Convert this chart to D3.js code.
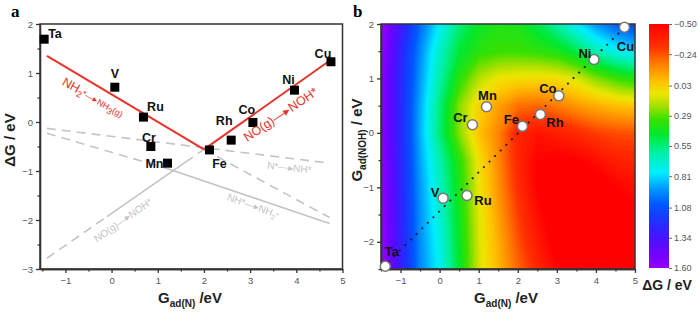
<!DOCTYPE html>
<html>
<head>
<meta charset="utf-8">
<script src="https://cdn.jsdelivr.net/npm/d3@7"></script>
<style>
body { margin: 0; background: #fff; }
svg { display: block; font-family: Arial, "Liberation Sans", sans-serif; }
</style>
</head>
<body>
<svg id="chart" width="700" height="314"></svg>
<script>
const metals = ["Ta", "V", "Ru", "Cr", "Mn", "Fe", "Rh", "Co", "Ni", "Cu"];

// panel a: limiting free energy vs N adsorption energy
const gN_a = [-1.46, 0.07, 0.69, 0.85, 1.21, 2.12, 2.59, 3.06, 3.96, 4.75];
const dG_a = [1.69, 0.71, 0.10, -0.50, -0.84, -0.57, -0.37, -0.01, 0.65, 1.23];

// scaling lines (segments: x pair, y pair)
const redLines = [
    {x: [-1.4, 2.0], y: [1.35, -0.56]},
    {x: [2.0, 4.72], y: [-0.56, 1.25]}
];
const grayDashed = [
    {x: [2.0, 4.72], y: [-0.56, -1.95]},
    {x: [-1.4, -0.1], y: [-2.78, -1.93]},
    {x: [1.6, 2.0], y: [-0.82, -0.56]},
    {x: [-1.4, 4.72], y: [-0.13, -0.84]},
    {x: [-1.4, 1.2], y: [-0.23, -0.95]}
];
const graySolid = [
    {x: [-0.1, 1.6], y: [-1.93, -0.82]},
    {x: [1.2, 4.72], y: [-0.95, -2.07]}
];

// panel b: metals on the (G_ad(N), G_ad(NOH)) map
const gN_b = [-1.39, 0.09, 0.70, 0.84, 1.20, 2.12, 2.58, 3.05, 3.95, 4.73];
const gNOH_b = [-2.45, -1.20, -1.15, 0.15, 0.48, 0.12, 0.34, 0.68, 1.35, 1.94];
const scalingLine = {x: [-1.45, 4.75], y: [-2.47, 1.95]};

// dG, rows from y = 2 down to y = -2.5
const gridX = [-1.5, -1, -0.5, 0, 0.5, 1, 1.5, 2, 2.5, 3, 3.5, 4, 4.5, 5];
const gridY = [2, 1.5, 1, 0.5, 0, -0.5, -1, -1.5, -2, -2.5];
const dGgrid = [
    [1.64, 1.32, 1.01, 0.77, 0.55, 0.43, 0.38, 0.39, 0.49, 0.62, 0.78, 0.93, 1.04, 1.12],
    [1.60, 1.26, 0.95, 0.67, 0.46, 0.36, 0.33, 0.33, 0.35, 0.39, 0.48, 0.63, 0.74, 0.80],
    [1.58, 1.24, 0.92, 0.62, 0.36, 0.18, 0.09, 0.07, 0.06, 0.07, 0.13, 0.24, 0.32, 0.38],
    [1.58, 1.24, 0.89, 0.55, 0.24, 0.04, -0.08, -0.18, -0.20, -0.16, -0.10, -0.05, -0.01, 0.01],
    [1.58, 1.24, 0.88, 0.54, 0.24, 0.00, -0.14, -0.36, -0.42, -0.38, -0.34, -0.28, -0.25, -0.24],
    [1.59, 1.25, 0.90, 0.63, 0.36, 0.08, -0.13, -0.35, -0.50, -0.52, -0.50, -0.45, -0.38, -0.36],
    [1.60, 1.26, 0.92, 0.67, 0.39, 0.10, -0.11, -0.32, -0.50, -0.58, -0.60, -0.58, -0.50, -0.45],
    [1.61, 1.27, 0.93, 0.70, 0.41, 0.12, -0.08, -0.28, -0.45, -0.58, -0.62, -0.62, -0.58, -0.52],
    [1.62, 1.28, 0.94, 0.73, 0.43, 0.13, -0.05, -0.24, -0.40, -0.55, -0.62, -0.63, -0.62, -0.58],
    [1.64, 1.29, 0.95, 0.76, 0.44, 0.14, -0.03, -0.20, -0.35, -0.48, -0.58, -0.62, -0.62, -0.60]
];

const cbarTicks = [-0.50, -0.24, 0.03, 0.29, 0.55, 0.81, 1.08, 1.34, 1.60];
const cbarValues = [-0.5, -0.3, -0.15, 0.0, 0.1, 0.2, 0.32, 0.45, 0.6, 0.78, 0.92, 1.05, 1.2, 1.35, 1.5, 1.6];
const cbarColors = ["#ff0000", "#ff3300", "#ff8000", "#ffc400", "#ebe600", "#a8e000", "#3ce000",
    "#00e830", "#00f0a0", "#00eeff", "#0098ff", "#0058ff", "#2030ff", "#4a12ff", "#7800ff", "#9400ff"];

// label offsets (px) relative to each marker
const labelOffA = [[4, -1, "start"], [0, -9, "middle"], [12, -6, "middle"], [-2, -5, "middle"], [-4, 5, "end"],
    [10, 18, "middle"], [-7, -15, "middle"], [-6, -8, "middle"], [-6, -6, "middle"], [-8, -4, "middle"]];
const labelOffB = [[6.5, -10], [-8, -1.5], [16, 9], [-12, -3], [1, -7], [-11, -2], [14.5, 12.7], [-11, -3], [-9, -1], [1, 24]];

const svg = d3.select("#chart");
const ink = "#333";

function frame(g, x, y, xTicks, xMinor, yTicks, yMinor) {
    const [x0, x1] = x.range(), [y0, y1] = y.range();
    g.append("g").attr("transform", `translate(0,${y0})`)
        .call(d3.axisBottom(x).tickValues(xMinor).tickSize(2.5).tickSizeOuter(0).tickFormat(""));
    g.append("g").attr("transform", `translate(0,${y0})`)
        .call(d3.axisBottom(x).tickValues(xTicks).tickSize(4).tickPadding(4).tickSizeOuter(0).tickFormat(d3.format("d")));
    g.append("g").attr("transform", `translate(${x0},0)`)
        .call(d3.axisLeft(y).tickValues(yMinor).tickSize(2.5).tickSizeOuter(0).tickFormat(""));
    g.append("g").attr("transform", `translate(${x0},0)`)
        .call(d3.axisLeft(y).tickValues(yTicks).tickSize(4).tickPadding(3).tickSizeOuter(0).tickFormat(d3.format("d")));
    g.selectAll(".domain, .tick line").attr("stroke", ink).attr("stroke-width", 1.3);
    g.selectAll(".tick text").attr("fill", "#555").style("font-size", "9.5px");
    g.append("rect").attr("x", x0).attr("y", y1).attr("width", x1 - x0).attr("height", y0 - y1)
        .attr("fill", "none").attr("stroke", ink).attr("stroke-width", 1.5);
}

function axisTitle(g, x, y, main, sub, tail, rotate, size) {
    const t = g.append("text").attr("text-anchor", "middle").attr("font-weight", "bold")
        .attr("fill", "#222").style("font-size", (size || 15) + "px")
        .attr("transform", `translate(${x},${y})` + (rotate ? " rotate(-90)" : ""));
    t.append("tspan").text(main);
    if (sub) t.append("tspan").attr("dy", 4).style("font-size", "10px").text(sub);
    t.append("tspan").attr("dy", sub ? -4 : 0).text(tail);
}

// ---------- panel a ----------
const xa = d3.scaleLinear().domain([-1.55, 5]).range([40, 342.5]);
const ya = d3.scaleLinear().domain([-3, 2]).range([269, 24]);
const ga = svg.append("g");
ga.append("rect").attr("x", 40).attr("y", 24).attr("width", 302.5).attr("height", 245).attr("fill", "#fff");

const segLine = d3.line().x(d => xa(d[0])).y(d => ya(d[1]));
const pairs = s => s.x.map((v, i) => [v, s.y[i]]);

ga.selectAll(".gdash").data(grayDashed).join("path")
    .attr("d", d => segLine(pairs(d))).attr("fill", "none")
    .attr("stroke", "#c4c4c4").attr("stroke-width", 1.6).attr("stroke-dasharray", "9,6");
ga.selectAll(".gsolid").data(graySolid).join("path")
    .attr("d", d => segLine(pairs(d))).attr("fill", "none")
    .attr("stroke", "#c4c4c4").attr("stroke-width", 1.6);
ga.selectAll(".red").data(redLines).join("path")
    .attr("d", d => segLine(pairs(d))).attr("fill", "none")
    .attr("stroke", "#e8332a").attr("stroke-width", 2);

frame(ga, xa, ya, d3.range(-1, 6), [-1.5, -0.5, 0.5, 1.5, 2.5, 3.5, 4.5],
    d3.range(-3, 3), [-2.5, -1.5, -0.5, 0.5, 1.5]);

ga.selectAll(".sq").data(metals).join("rect")
    .attr("x", (d, i) => xa(gN_a[i]) - 4.5).attr("y", (d, i) => ya(dG_a[i]) - 4.5)
    .attr("width", 9).attr("height", 9).attr("fill", "#000");
ga.selectAll(".lab").data(metals).join("text")
    .attr("x", (d, i) => xa(gN_a[i]) + labelOffA[i][0])
    .attr("y", (d, i) => ya(dG_a[i]) + labelOffA[i][1])
    .attr("text-anchor", (d, i) => labelOffA[i][2])
    .attr("font-weight", "bold").attr("fill", "#111").style("font-size", "12.5px")
    .text(d => d);

function stepLabel(g, x, y, angle, color, size, parts) {
    const t = g.append("text").attr("transform", `translate(${x},${y}) rotate(${angle})`)
        .attr("text-anchor", "middle").attr("fill", color).style("font-size", size + "px");
    parts.forEach(p => {
        const s = t.append("tspan").text(p[0]);
        if (p[1]) s.attr("dy", p[1]).style("font-size", (size * 0.7) + "px");
    });
}
const arrow = "\u2014\u25B8";
stepLabel(ga, 91, 101, 29, "#e8332a", 12.5, [["NH"], ["2", 3], ["*" + arrow + "NH", -3], ["3", 3], ["(g)", -3]]);
stepLabel(ga, 283, 118, -34, "#e8332a", 12.5, [["NO(g)" + arrow + "NOH*"]]);
stepLabel(ga, 289, 171, 6, "#c4c4c4", 10, [["N*" + arrow + "NH*"]]);
stepLabel(ga, 252, 209, 20, "#c4c4c4", 10, [["NH*" + arrow + "NH"], ["2", 3], ["*", -3]]);
stepLabel(ga, 125, 223, -35, "#c4c4c4", 10, [["NO(g)" + arrow + "NOH*"]]);

axisTitle(ga, 15, 140, "\u0394G / eV", null, "", true);
axisTitle(ga, 190, 303, "G", "ad(N)", " /eV", false);
svg.append("text").attr("x", 11).attr("y", 17).attr("font-weight", "bold")
    .attr("font-family", "Liberation Serif, serif").style("font-size", "17px").text("a");

// ---------- panel b ----------
const xb = d3.scaleLinear().domain([-1.5, 5]).range([381, 635]);
const yb = d3.scaleLinear().domain([-2.5, 2]).range([269, 24]);
const color = d3.scaleLinear().domain(cbarValues).range(cbarColors).clamp(true);
const gb = svg.append("g");

gb.append("clipPath").attr("id", "clipb").append("rect")
    .attr("x", 381).attr("y", 24).attr("width", 254).attr("height", 245);

const n = gridX.length, m = gridY.length;
const stepX = gridX[1] - gridX[0], stepY = gridY[1] - gridY[0];
const levels = d3.range(-0.7, 1.7, 0.025);
const contours = d3.contours().size([n, m]).thresholds(levels)(dGgrid.flat());
const proj = d3.geoTransform({
    point(px, py) {
        this.stream.point(xb(gridX[0] + (px - 0.5) * stepX), yb(gridY[0] + (py - 0.5) * stepY));
    }
});
gb.append("g").attr("clip-path", "url(#clipb)")
    .selectAll("path").data(contours).join("path")
    .attr("d", d3.geoPath(proj))
    .attr("fill", d => color(d.value + 0.0125))
    .attr("stroke", d => color(d.value + 0.0125)).attr("stroke-width", 0.4);

gb.append("path").datum(pairs(scalingLine))
    .attr("d", d3.line().x(d => xb(d[0])).y(d => yb(d[1])))
    .attr("fill", "none").attr("stroke", "#1a1a1a").attr("stroke-width", 2)
    .attr("stroke-linecap", "round").attr("stroke-dasharray", "0.1,7.8");

frame(gb, xb, yb, d3.range(-1, 6), [-1.5, -0.5, 0.5, 1.5, 2.5, 3.5, 4.5],
    d3.range(-2, 3), [-2.5, -1.5, -0.5, 0.5, 1.5]);

gb.selectAll(".dot").data(metals).join("circle")
    .attr("cx", (d, i) => xb(gN_b[i])).attr("cy", (d, i) => yb(gNOH_b[i]))
    .attr("r", 5).attr("fill", "#fff").attr("stroke", "#777").attr("stroke-width", 1.5);
gb.selectAll(".labb").data(metals).join("text")
    .attr("x", (d, i) => xb(gN_b[i]) + labelOffB[i][0])
    .attr("y", (d, i) => yb(gNOH_b[i]) + labelOffB[i][1])
    .attr("text-anchor", "middle").attr("font-weight", "bold").attr("fill", "#111")
    .style("font-size", "13px").text(d => d);

axisTitle(gb, 362, 140, "G", "ad(NOH)", " / eV", true);
axisTitle(gb, 506, 303, "G", "ad(N)", " /eV", false);
svg.append("text").attr("x", 353).attr("y", 17).attr("font-weight", "bold")
    .attr("font-family", "Liberation Serif, serif").style("font-size", "17px").text("b");

// ---------- colour bar ----------
const cb = d3.scaleLinear().domain([-0.5, 1.6]).range([24, 268]);
const grad = svg.append("defs").append("linearGradient").attr("id", "cbar")
    .attr("x1", 0).attr("y1", 0).attr("x2", 0).attr("y2", 1);
grad.selectAll("stop").data(cbarValues).join("stop")
    .attr("offset", d => (d - cbarValues[0]) / (cbarValues[cbarValues.length - 1] - cbarValues[0]))
    .attr("stop-color", (d, i) => cbarColors[i]);
svg.append("rect").attr("x", 649).attr("y", 24).attr("width", 20).attr("height", 244)
    .attr("fill", "url(#cbar)");
const cbAxis = svg.append("g").attr("transform", "translate(669,0)")
    .call(d3.axisRight(cb).tickValues(cbarTicks).tickSize(3).tickPadding(2).tickFormat(d3.format(".2f")));
cbAxis.select(".domain").remove();
cbAxis.selectAll(".tick line").attr("stroke", "#666");
cbAxis.selectAll(".tick text").attr("fill", "#555").style("font-size", "9px");
axisTitle(svg, 667, 290, "\u0394G / eV", null, "", false, 14);
</script>
</body>
</html>
